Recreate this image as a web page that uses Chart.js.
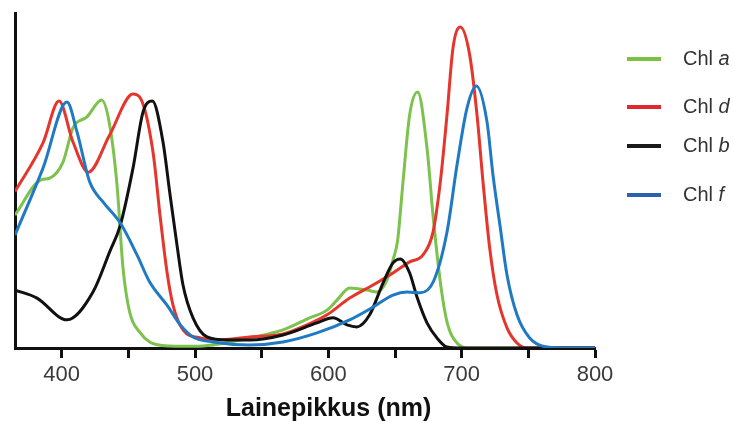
<!DOCTYPE html>
<html>
<head>
<meta charset="utf-8">
<script src="https://cdn.jsdelivr.net/npm/chart.js@4"></script>
<style>
  body { margin: 0; background: #fff; }
  #wrap { position: relative; width: 733px; height: 421px; }
  #chart { position: absolute; left: 0; top: 0; }
  .legend-item { position: absolute; left: 627px; height: 24px; }
  .legend-item .swatch { position: absolute; left: 0; top: 10px; width: 34px; height: 4px; }
  .legend-item .label {
    position: absolute; left: 56px; top: 0; line-height: 24px; white-space: nowrap;
    font: 20px "Liberation Sans", Arial, sans-serif; color: #333;
  }
  #xtitle {
    position: absolute; left: 0; width: 657px; top: 393px; text-align: center;
    font: bold 25px "Liberation Sans", Arial, sans-serif; color: #111; line-height: 28px;
  }
</style>
</head>
<body>
<div id="wrap">
  <canvas id="chart" width="733" height="421"></canvas>
  <div id="legend"></div>
  <div id="xtitle">Lainepikkus (nm)</div>
</div>
<script>
// Wavelength ticks (nm)
const xMin = 365
const xMax = 800
const tickStep = 50

// Chl a (green)
const chlAWl = [365, 384, 391, 401, 408.5, 419, 430, 436, 441.5, 446, 451, 459, 466, 481, 500, 541, 566, 586, 599, 606.5, 616, 629, 636.5, 644, 648.5, 652, 656, 661, 667, 674, 678.5, 684, 689, 696.5, 706, 800]
const chlAVal = [0.397, 0.501, 0.507, 0.555, 0.657, 0.690, 0.740, 0.666, 0.487, 0.239, 0.107, 0.045, 0.018, 0.006, 0.005, 0.030, 0.054, 0.090, 0.113, 0.143, 0.179, 0.173, 0.167, 0.203, 0.263, 0.322, 0.496, 0.696, 0.764, 0.597, 0.397, 0.197, 0.078, 0.015, 0, 0]

// Chl d (red)
const chlDWl = [365, 386, 398, 408.5, 420, 436, 453.5, 459, 468.5, 474, 479, 483.5, 491, 504, 520, 541, 566, 584, 599, 616, 633.5, 648.5, 661, 671, 678.5, 684, 689, 693.5, 699, 706, 711.5, 716, 721, 726.5, 734, 741.5, 749, 800]
const chlDVal = [0.467, 0.612, 0.737, 0.615, 0.525, 0.636, 0.758, 0.746, 0.585, 0.388, 0.227, 0.128, 0.054, 0.030, 0.025, 0.033, 0.042, 0.069, 0.099, 0.149, 0.188, 0.224, 0.257, 0.278, 0.346, 0.496, 0.696, 0.896, 0.958, 0.875, 0.696, 0.496, 0.299, 0.158, 0.060, 0.015, 0, 0]

// Chl b (black)
const chlBWl = [365, 381.5, 404, 423.5, 436, 444, 453.5, 461, 468, 476, 481, 486.5, 491, 498.5, 509, 524, 541, 566, 591.5, 603.5, 614, 621.5, 631, 641, 648.5, 654, 661, 666.5, 674, 681.5, 689, 700, 800]
const chlBVal = [0.173, 0.149, 0.084, 0.167, 0.287, 0.367, 0.537, 0.704, 0.737, 0.615, 0.466, 0.307, 0.188, 0.090, 0.033, 0.024, 0.024, 0.039, 0.075, 0.090, 0.069, 0.063, 0.099, 0.194, 0.254, 0.266, 0.224, 0.152, 0.075, 0.030, 0.003, 0, 0]

// Chl f (blue)
const chlFWl = [365, 386, 404, 411.5, 421, 431, 444, 456.5, 466, 479, 489, 498.5, 513.5, 541, 566, 591.5, 616, 633.5, 648.5, 659, 669, 679, 689, 696.5, 704, 711, 719, 723.5, 729, 734, 741.5, 751, 764, 781, 800]
const chlFVal = [0.337, 0.537, 0.734, 0.645, 0.496, 0.436, 0.373, 0.278, 0.197, 0.128, 0.069, 0.033, 0.018, 0.009, 0.018, 0.045, 0.084, 0.122, 0.158, 0.167, 0.165, 0.200, 0.346, 0.546, 0.716, 0.782, 0.675, 0.516, 0.358, 0.218, 0.099, 0.030, 0.003, 0, 0]

const series = [
  { name: "Chl", tag: "a", wl: chlAWl, val: chlAVal, color: "#7cc24d", key: "#7dc142", top: 47, order: 3 },
  { name: "Chl", tag: "d", wl: chlDWl, val: chlDVal, color: "#e6352c", key: "#e0282e", top: 95, order: 2 },
  { name: "Chl", tag: "b", wl: chlBWl, val: chlBVal, color: "#111111", key: "#1a1a1a", top: 134, order: 1 },
  { name: "Chl", tag: "f", wl: chlFWl, val: chlFVal, color: "#2079c3", key: "#2b62ad", top: 183, order: 0 },
]

// Legend
const legend = document.getElementById("legend")
legend.innerHTML = series.map(s => `
  <div class="legend-item" style="top:${s.top}px">
    <div class="swatch" style="background:${s.key}"></div>
    <div class="label">${s.name} <i>${s.tag}</i></div>
  </div>
`).join("")

new Chart(document.getElementById("chart"), {
  type: "line",
  data: {
    datasets: series.map(s => ({
      label: s.name + " " + s.tag,
      data: s.wl.map((x, i) => ({ x, y: s.val[i] })),
      borderColor: s.color,
      borderWidth: 3,
      pointRadius: 0,
      cubicInterpolationMode: "monotone",
      fill: false,
      order: s.order
    }))
  },
  options: {
    responsive: false,
    animation: false,
    devicePixelRatio: 1,
    layout: { padding: { left: 15, right: 138, top: 13, bottom: 0 } },
    plugins: { legend: { display: false }, tooltip: { enabled: false } },
    scales: {
      x: {
        type: "linear",
        min: xMin,
        max: xMax,
        afterFit: s => { s.height = 73 },
        border: { display: true, color: "#111", width: 3 },
        grid: { drawOnChartArea: false, drawTicks: true, tickLength: 10, tickColor: "#111", tickWidth: 3 },
        ticks: {
          stepSize: tickStep,
          includeBounds: false,
          autoSkip: false,
          maxRotation: 0,
          padding: 4,
          color: "#3a3a3a",
          font: { family: "'Liberation Sans', Arial, sans-serif", size: 22 },
          callback: v => (v % 100 === 0 ? v : "")
        }
      },
      y: {
        min: 0,
        max: 1,
        afterFit: s => { s.width = 0 },
        border: { display: true, color: "#111", width: 3 },
        grid: { display: false },
        ticks: { display: false }
      }
    }
  }
})
</script>
</body>
</html>
